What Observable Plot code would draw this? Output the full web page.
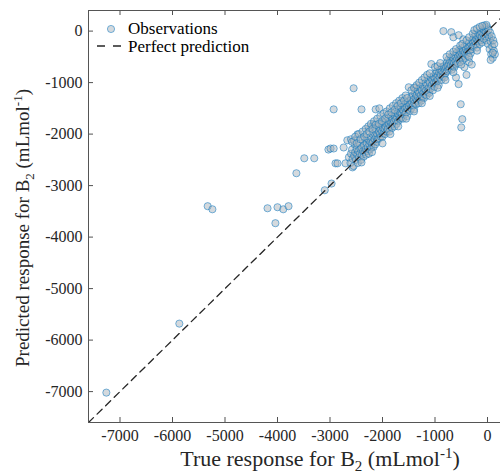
<!DOCTYPE html>
<html>
<head>
<meta charset="utf-8">
<script src="https://cdn.jsdelivr.net/npm/d3@7"></script>
<script src="https://cdn.jsdelivr.net/npm/@observablehq/plot@0.6"></script>
<style>
  html, body { margin: 0; padding: 0; background: #fff; overflow: hidden; }
</style>
</head>
<body>
<div id="chart"></div>
<script>
// ---- data (true response, predicted response), mL/mol ----
const axisDomain = [-7600, 400];
const xTicks = [-7000, -6000, -5000, -4000, -3000, -2000, -1000, 0];
const yTicks = [-7000, -6000, -5000, -4000, -3000, -2000, -1000, 0];
const perfectLine = [-7600, 400];

const outlierPoints = [
  [-7260,-7020],[-5870,-5680],[-5330,-3400],[-5240,-3460],[-4190,-3440],[-4000,-3420],
  [-3890,-3460],[-3790,-3400],[-4040,-3730],[-3640,-2760],[-3490,-2470],[-3300,-2470],
  [-3030,-2300],[-3100,-3090],[-2970,-2960],[-2990,-2280],[-2930,-2280],[-2550,-1110],
  [-2930,-1520],[-2400,-1520],[-2130,-1520],[-2060,-1500],[-840,0],[-690,-20],[-650,-120],
  [-550,-80],[-460,-160],[-510,-1420],[-480,-1710],[-500,-1870],[-1070,-640],[-1500,-1090],
  [-1370,-1090],[-550,-1030],[-440,-700],[-2895,-2568],[-2740,-2260],[-2705,-2568],
  [-2857,-2568],[-2571,-2646],[-600,-900],[-400,-850],[-350,-600],[-300,-650]
];

const clusterLow = [
  [-2640,-2450],[-2610,-2560],[-2600,-2380],[-2580,-2300],[-2570,-2480],[-2550,-2620],
  [-2540,-2420],[-2530,-2200],[-2520,-2350],[-2505,-2500],[-2490,-2280],[-2480,-2400],
  [-2476,-2004],[-2470,-2560],[-2460,-2330],[-2450,-2450],[-2440,-2180],[-2430,-2380],
  [-2420,-2290],[-2410,-2500],[-2400,-2260],[-2390,-2400],[-2380,-2120],[-2370,-2330],
  [-2360,-2440],[-2350,-2220],[-2340,-2350],[-2330,-2080],[-2320,-2290],[-2310,-2400],
  [-2300,-2180],[-2290,-2330],[-2280,-2250],[-2270,-2100],[-2260,-2380],[-2250,-2200],
  [-2240,-2300],[-2230,-2150],[-2220,-2050],[-2210,-2260],[-2200,-2180],[-2670,-2120],
  [-2600,-2100],[-2540,-2130],[-2171,-1809],[-2230,-1880]
];

const clusterMid = [
  [-2190,-2000],[-2180,-2150],[-2170,-2250],[-2160,-1980],[-2150,-2100],[-2140,-2200],
  [-2130,-1900],[-2120,-2050],[-2110,-2150],[-2100,-2000],[-2090,-2100],[-2080,-1850],
  [-2070,-1950],[-2060,-2080],[-2050,-2000],[-2040,-1900],[-2030,-2050],[-2020,-1800],
  [-2010,-1950],[-2000,-2050],[-1990,-1880],[-1980,-1980],[-1970,-1780],[-1960,-1900],
  [-1950,-2000],[-1940,-1850],[-1930,-1750],[-1920,-1950],[-1910,-1820],[-1900,-1900],
  [-1890,-1700],[-1880,-1800],[-1870,-1950],[-1860,-1750],[-1850,-1850],[-1840,-1650],
  [-1830,-1780],[-1820,-1880],[-1810,-1700],[-1800,-1800],[-1790,-1600],[-1780,-1750],
  [-1770,-1850],[-1760,-1650],[-1750,-1720],[-1740,-1550],[-1730,-1800],[-1720,-1680],
  [-1710,-1600],[-1700,-1750],[-1690,-1500],[-1680,-1650],[-1670,-1700],[-1660,-1580],
  [-1650,-1480],[-1640,-1680],[-1630,-1600],[-1620,-1520],[-1610,-1700],[-1600,-1550],
  [-1590,-1450],[-1580,-1620],[-1570,-1500],[-1560,-1400],[-1550,-1580],[-1540,-1480],
  [-1530,-1650],[-1520,-1380],[-1510,-1520]
];

const clusterUpper = [
  [-1500,-1450],[-1490,-1350],[-1480,-1550],[-1470,-1420],[-1460,-1300],[-1450,-1500],
  [-1440,-1380],[-1430,-1250],[-1420,-1450],[-1410,-1330],[-1400,-1520],[-1390,-1400],
  [-1380,-1200],[-1370,-1300],[-1360,-1420],[-1350,-1250],[-1340,-1350],[-1330,-1150],
  [-1320,-1280],[-1310,-1400],[-1300,-1200],[-1290,-1320],[-1280,-1100],[-1270,-1250],
  [-1260,-1350],[-1250,-1150],[-1240,-1280],[-1230,-1050],[-1220,-1200],[-1210,-1300],
  [-1200,-1120],[-1190,-1230],[-1180,-1000],[-1170,-1150],[-1160,-1250],[-1150,-1050],
  [-1140,-1180],[-1130,-950],[-1120,-1100],[-1110,-1200],[-1100,-1000],[-1090,-1120],
  [-1080,-900],[-1060,-1050],[-1050,-950],[-1040,-1150],[-1030,-880],[-1020,-1000],
  [-1010,-1080],[-1000,-920],[-990,-820],[-980,-1000],[-970,-900],[-960,-780],
  [-950,-950],[-940,-860],[-930,-1050],[-920,-800],[-910,-900],[-900,-750],
  [-890,-850],[-880,-950],[-870,-780],[-860,-700],[-850,-880],[-840,-800],
  [-830,-680],[-820,-900],[-810,-760]
];

const clusterHigh = [
  [-800,-820],[-790,-700],[-780,-620],[-770,-780],[-760,-680],[-750,-560],[-740,-750],
  [-730,-640],[-720,-720],[-710,-580],[-700,-660],[-690,-500],[-680,-750],[-670,-600],
  [-660,-680],[-650,-520],[-640,-620],[-630,-700],[-620,-480],[-610,-580],[-600,-650],
  [-590,-420],[-580,-540],[-570,-620],[-560,-480],[-550,-380],[-540,-560],[-530,-450],
  [-520,-600],[-510,-400],[-500,-500],[-490,-330],[-480,-450],[-470,-560],[-460,-380],
  [-450,-480],[-440,-300],[-430,-420],[-420,-520],[-410,-350],[-400,-450],[-390,-280],
  [-380,-400],[-370,-480],[-360,-320],[-350,-220],[-340,-380],[-330,-300],[-320,-430],
  [-310,-250]
];

const clusterTop = [
  [-300,-350],[-290,-180],[-280,-300],[-270,-220],[-260,-120],[-250,-280],[-240,-200],
  [-230,-60],[-220,-250],[-210,-150],[-200,-320],[-190,-100],[-180,-200],[-170,-50],
  [-160,-150],[-150,-250],[-140,-80],[-130,-180],[-120,-20],[-110,-120],[-100,-220],
  [-90,40],[-80,-60],[-70,-150],[-60,20],[-50,-100],[-40,60],[-30,-30],[-20,-180],
  [-10,80],[0,-60],[10,-250],[20,30],[30,-120],[40,-350],[50,-30],[60,-200],[70,-450],
  [80,-100],[90,-300],[100,-520],[110,-180],[120,-380],[130,-250],[140,-450],[60,-560],
  [100,-420],[-60,110],[-20,120]
];

const spreadAbove = [
  [-2580,-2150],[-2520,-2050],[-2490,-2180],[-2450,-2000],[-2420,-2100],[-2380,-1950],
  [-2350,-2050],[-2320,-1900],[-2300,-2000],[-2270,-1850],[-2250,-1950],[-2220,-1800],
  [-2190,-1900],[-2160,-1750],[-2130,-1820],[-2100,-1700],[-2070,-1800],[-2040,-1650],
  [-2010,-1750],[-1980,-1600],[-1950,-1700],[-1920,-1560],[-1890,-1620],[-1860,-1500],
  [-1830,-1580],[-1800,-1450],[-1770,-1530],[-1740,-1400],[-1710,-1450],[-1680,-1350],
  [-1650,-1400],[-1620,-1300],[-1590,-1350],[-1560,-1250],[-1530,-1300],[-1450,-1150],
  [-1400,-1100],[-1350,-1050],[-1300,-1000],[-1250,-950],[-1200,-900],[-1150,-850],
  [-1100,-820],[-1000,-700],[-950,-680],[-900,-620],[-780,-500],[-720,-450],[-650,-400],
  [-600,-350],[-520,-280],[-480,-250],[-400,-180],[-350,-120],[-280,-50],[-250,20],
  [-200,50],[-150,80],[-100,100]
];

const spreadBelow = [
  [-2400,-2550],[-2200,-2350],[-2000,-2180],[-1850,-2000],[-1700,-1850],[-1550,-1700],
  [-1400,-1560],[-1250,-1400],[-1100,-1260],[-950,-1100],[-800,-950],[-650,-800],
  [-500,-650],[-350,-500],[-200,-380]
];

const observations = [...outlierPoints, ...clusterLow, ...clusterMid, ...clusterUpper,
  ...clusterHigh, ...clusterTop, ...spreadAbove, ...spreadBelow]
  .map(([t, p]) => ({trueResponse: t, predicted: p}));
const lineData = perfectLine.map(v => ({trueResponse: v, predicted: v}));

const dark = "#262626";
const font = "'Liberation Serif', 'Times New Roman', serif";

const chart = Plot.plot({
  width: 500,
  height: 475,
  marginLeft: 88,
  marginRight: -8,
  marginTop: 10,
  marginBottom: 53,
  style: {fontFamily: font, fontSize: "16px", color: dark, background: "#fff"},
  x: {domain: axisDomain, ticks: xTicks, label: null},
  y: {domain: axisDomain, ticks: yTicks, label: null},
  marks: [
    Plot.dot(observations, {
      x: "trueResponse", y: "predicted", r: 3.6,
      fill: "#a9b3bc", fillOpacity: 0.5,
      stroke: "#0072BD", strokeOpacity: 0.5, strokeWidth: 1
    }),
    Plot.line(lineData, {
      x: "trueResponse", y: "predicted", stroke: dark, strokeWidth: 1.3,
      strokeDasharray: "7,5", clip: true
    }),
    // inward tick marks
    Plot.gridX(xTicks, {stroke: dark, strokeOpacity: 0.8, insetTop: 407}),
    Plot.gridX(xTicks, {stroke: dark, strokeOpacity: 0.8, insetBottom: 407}),
    Plot.gridY(yTicks, {stroke: dark, strokeOpacity: 0.8, insetRight: 415}),
    // axis box lines
    Plot.ruleY([axisDomain[0]], {stroke: "#555"}),
    Plot.ruleY([axisDomain[1]], {stroke: "#555"}),
    Plot.ruleX([axisDomain[0]], {stroke: "#555"}),
    Plot.axisX({anchor: "bottom", ticks: xTicks, tickSize: 0, tickPadding: 7,
      tickFormat: d => String(d), label: null, fill: dark}),
    Plot.axisY({anchor: "left", ticks: yTicks, tickSize: 0, tickPadding: 6,
      tickFormat: d => String(d), label: null, fill: dark})
  ]
});

document.getElementById("chart").appendChild(chart);

const svg = d3.select(chart);

// axis titles with subscript / superscript
function addLabel(g, size, anchor) {
  return g.append("text").attr("text-anchor", anchor)
    .attr("font-family", font).attr("font-size", size).attr("fill", dark);
}
const xl = addLabel(svg.append("g"), 22, "middle").attr("x", 320).attr("y", 466);
xl.append("tspan").text("True response for B");
xl.append("tspan").attr("dy", 5).attr("font-size", 15).text("2");
xl.append("tspan").attr("dy", -5).text(" (mLmol");
xl.append("tspan").attr("dy", -8).attr("font-size", 15).text("-1");
xl.append("tspan").attr("dy", 8).text(")");

const yl = addLabel(svg.append("g").attr("transform", "translate(29,228) rotate(-90)"), 19, "middle")
  .attr("x", 0).attr("y", 0);
yl.append("tspan").text("Predicted response for B");
yl.append("tspan").attr("dy", 5).attr("font-size", 13).text("2");
yl.append("tspan").attr("dy", -5).text(" (mLmol");
yl.append("tspan").attr("dy", -7).attr("font-size", 13).text("-1");
yl.append("tspan").attr("dy", 7).text(")");

// legend
const lg = svg.append("g").attr("font-family", font).attr("font-size", 17)
  .attr("fill", "#000").attr("text-anchor", "start");
lg.append("circle").attr("cx", 111).attr("cy", 29).attr("r", 3.6)
  .attr("fill", "#a9b3bc").attr("fill-opacity", 0.5)
  .attr("stroke", "#0072BD").attr("stroke-opacity", 0.5);
lg.append("text").attr("x", 128).attr("y", 34).text("Observations");
lg.append("line").attr("x1", 97).attr("x2", 121).attr("y1", 46).attr("y2", 46)
  .attr("stroke", dark).attr("stroke-width", 1.3).attr("stroke-dasharray", "8,8");
lg.append("text").attr("x", 128).attr("y", 52).text("Perfect prediction");
</script>
</body>
</html>
